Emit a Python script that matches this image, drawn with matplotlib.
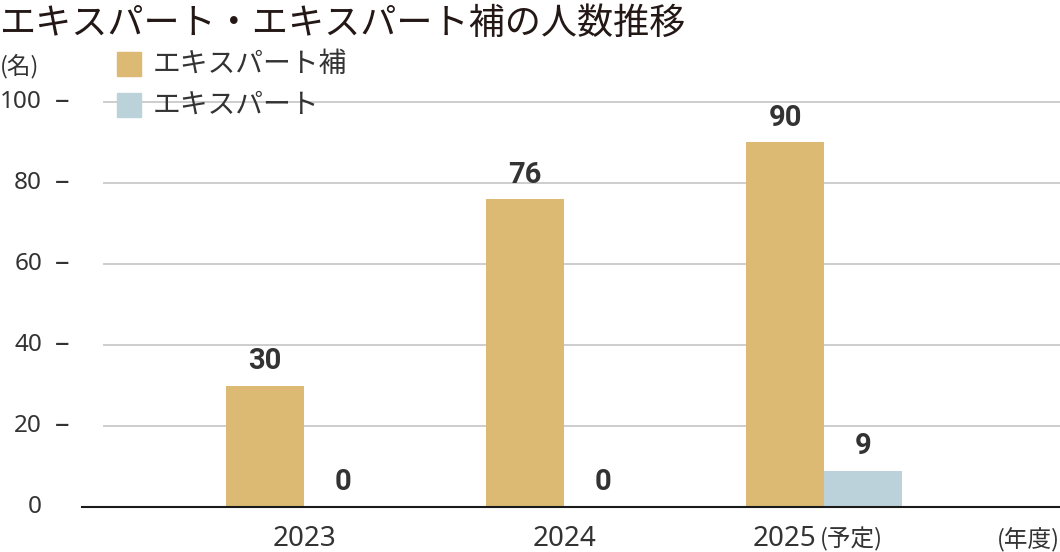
import matplotlib
matplotlib.use("Agg")
import matplotlib.pyplot as plt
import numpy as np

# ---- data ----
years = ["2023", "2024", "2025"]
year_notes = ["", "", "(予定)"]
series_names = ["エキスパート補", "エキスパート"]
hojo_values = [30, 76, 90]
expert_values = [0, 0, 9]
y_ticks = [0, 20, 40, 60, 80, 100]
title = "エキスパート・エキスパート補の人数推移"
y_unit = "(名)"
x_unit = "(年度)"

colors = ["#DCBA74", "#BCD2DB"]
text_col = "#333333"
jp = ["Noto Sans CJK JP", "DejaVu Sans"]

W, H = 1060, 552
fig = plt.figure(figsize=(W / 100, H / 100), dpi=100)

def fx(px):
    return px / W

def fy(py):
    return 1 - py / H

ax = fig.add_axes([fx(82), 1 - 507 / H, fx(1060 - 82), (507 - 102) / H])
x = np.arange(len(years))
unit = 260.0
ax.set_xlim((82 - 304) / unit, (1060 - 304) / unit)
ax.set_ylim(0, 100)
for s in ax.spines.values():
    s.set_visible(False)
ax.set_xticks([])
ax.set_yticks([])

# grid lines
x_grid_start = (104 - 304) / unit
for t in y_ticks[1:]:
    ax.plot([x_grid_start, ax.get_xlim()[1]], [t, t], color="#c9c9c9", lw=1.3,
            zorder=0, clip_on=False)
ax.axhline(0, color="#1a1a1a", lw=1.5, zorder=3, clip_on=False)

bw = 78 / unit
b1 = ax.bar(x - bw / 2, hojo_values, width=bw, color=colors[0], zorder=2)
b2 = ax.bar(x + bw / 2, expert_values, width=bw, color=colors[1], zorder=2)

for bars, vals in ((b1, hojo_values), (b2, expert_values)):
    for rect, v in zip(bars, vals):
        ax.annotate(f"{v}", (rect.get_x() + rect.get_width() / 2, v),
                    xytext=(0, 12), textcoords="offset points",
                    ha="center", va="baseline", fontsize=21,
                    fontweight="bold", family="Roboto", color=text_col)

# y tick labels
ytr = ax.get_yaxis_transform()
for t in y_ticks:
    ax.text((42 - 82) / 978, t, f"{t}", transform=ytr, ha="right", va="center",
            fontsize=17.5, family="Noto Sans", color=text_col)
    if t != 0:
        ax.text((62 - 82) / 978, t, "–", transform=ytr, ha="center", va="center",
                fontsize=21, family="Noto Sans", color=text_col)

# x labels
xtr = ax.get_xaxis_transform()
for xi, yl, note in zip(x, years, year_notes):
    if note:
        ax.text(xi - 40 / unit, -32 / 405, yl, transform=xtr, ha="center",
                va="center", fontsize=20, family="Noto Sans", color=text_col)
        ax.text(xi - 4 / unit, -32 / 405, note, transform=xtr, ha="left",
                va="center", fontsize=17, family=jp, color=text_col)
    else:
        ax.text(xi, -32 / 405, yl, transform=xtr, ha="center", va="center",
                fontsize=20, family="Noto Sans", color=text_col)

fig.text(fx(1060), fy(540), x_unit, ha="right", va="center", fontsize=17,
         family=jp, color=text_col)
fig.text(fx(0), fy(66), y_unit, ha="left", va="center", fontsize=17,
         family=jp, color=text_col)

# title
fig.text(fx(0), fy(34), title, ha="left", va="baseline", fontsize=26,
         family=jp, color="#231815")

# legend (manual)
for i, (name, c) in enumerate(zip(series_names, colors)):
    top = 52 + 41 * i
    fig.patches.append(plt.Rectangle((fx(117), fy(top + 24)), fx(24), 24 / H,
                                     transform=fig.transFigure, color=c))
    fig.text(fx(153), fy(top + 12), name, ha="left", va="center", fontsize=20,
             family=jp, color=text_col)

fig.savefig("out.png", dpi=100)
